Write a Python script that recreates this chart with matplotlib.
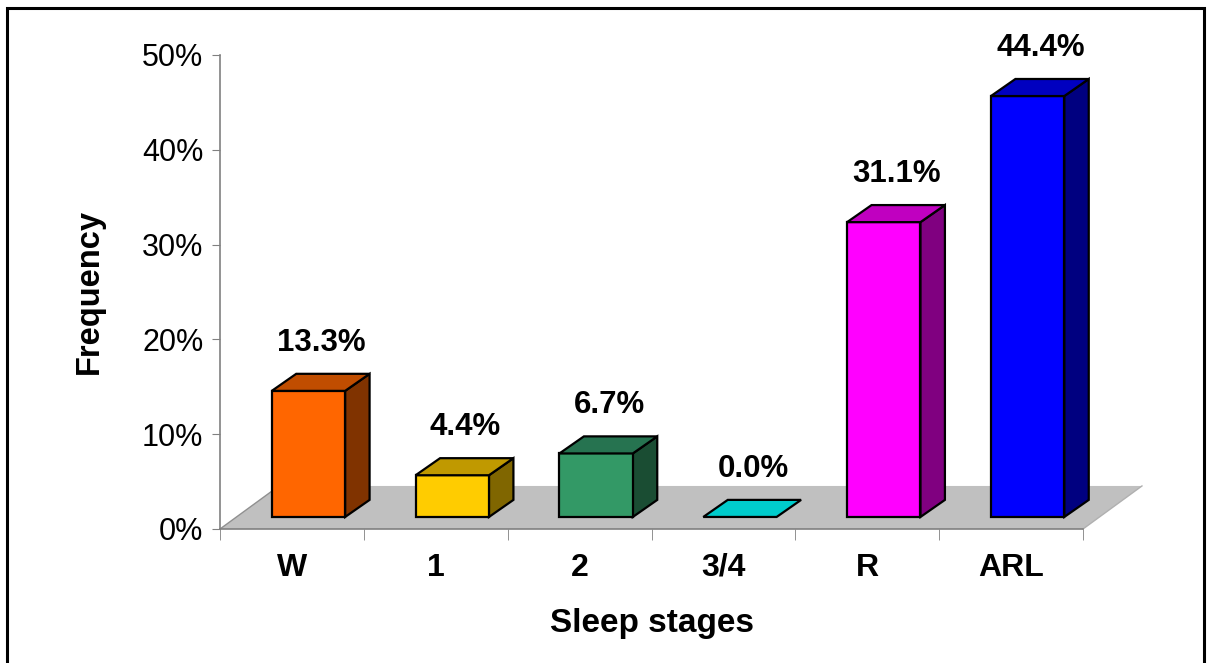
import matplotlib.pyplot as plt
from matplotlib.patches import Rectangle

plt.rcParams['font.family'] = ['Liberation Sans', 'DejaVu Sans']

# data
stages = ['W', '1', '2', '3/4', 'R', 'ARL']
freq = [13.3, 4.4, 6.7, 0.0, 31.1, 44.4]
y_ticks = [0, 10, 20, 30, 40, 50]

# colours (front, top, side)
front_col = ['#FF6600', '#FFCC00', '#339966', '#00CCCC', '#FF00FF', '#0000FF']
top_col = ['#C04D00', '#C09900', '#267350', '#00C4C4', '#C000C0', '#0000C0']
side_col = ['#803300', '#806600', '#1A4D33', '#008080', '#800080', '#000080']

# pseudo 3d geometry, in data units
floor_dx, floor_dy = 0.41, 4.54
bar_ox, bar_oy = 0.115, 1.27
bar_dx, bar_dy = 0.17, 1.8
bar_w = 0.51


def main():
    fig = plt.figure(figsize=(12.07, 6.63), dpi=100)
    ax = fig.add_axes([220 / 1207, (663 - 529) / 663, 863 / 1207, 474 / 663])
    ax.set_xlim(-0.5, len(stages) - 0.5)
    ax.set_ylim(0, 50)

    # floor
    x0, x1 = -0.5, len(stages) - 0.5
    ax.fill([x0, x1, x1 + floor_dx, x0 + floor_dx], [0, 0, floor_dy, floor_dy],
            color='#C0C0C0', lw=0, clip_on=False, zorder=1)
    ax.plot([x0, x0 + floor_dx], [0, floor_dy], color='#909090', lw=1,
            clip_on=False, zorder=1.5)
    ax.plot([x1, x1 + floor_dx], [0, floor_dy], color='#B0B0B0', lw=1,
            clip_on=False, zorder=1.5)

    ek = dict(edgecolor='black', lw=1.6, joinstyle='miter', clip_on=False, zorder=3)
    for i, v in enumerate(freq):
        l = i - bar_w / 2 + bar_ox
        r = l + bar_w
        b = bar_oy
        t = b + v
        if v > 0:
            # side and front faces
            ax.fill([r, r + bar_dx, r + bar_dx, r], [b, b + bar_dy, t + bar_dy, t],
                    facecolor=side_col[i], **ek)
            ax.fill([l, r, r, l], [b, b, t, t], facecolor=front_col[i], **ek)
            topc = top_col[i]
        else:
            topc = front_col[i]
        # top face
        ax.fill([l, r, r + bar_dx, l + bar_dx], [t, t, t + bar_dy, t + bar_dy],
                facecolor=topc, **ek)
        ax.text(i + bar_ox + bar_dx / 2 + 0.005, t + bar_dy + 3.3, f'{v:.1f}%',
                ha='center', va='center', fontsize=22.5, fontweight='bold', zorder=4)

    for s in ['top', 'right']:
        ax.spines[s].set_visible(False)
    for s in ['left', 'bottom']:
        ax.spines[s].set_color('#808080')
        ax.spines[s].set_linewidth(1.2)
        ax.spines[s].set_zorder(2)
    ax.set_facecolor('none')

    ax.set_yticks(y_ticks)
    ax.set_yticklabels([f'{t}%' for t in y_ticks], fontsize=22)
    ax.tick_params(axis='y', length=6, color='#808080', pad=6)

    ax.set_xticks(range(len(stages)))
    ax.set_xticklabels(stages, fontsize=23, fontweight='bold')
    ax.set_xticks([k - 0.5 for k in range(len(stages) + 1)], minor=True)
    ax.tick_params(axis='x', which='major', length=0, pad=17)
    ax.tick_params(axis='x', which='minor', length=8, color='#808080')

    ax.set_xlabel('Sleep stages', fontsize=24, fontweight='bold', labelpad=18)
    ax.set_ylabel('Frequency', fontsize=23.5, fontweight='bold', labelpad=27)

    fig.add_artist(Rectangle((7 / 1207, -0.01), 1197 / 1207, 1.01 - 8 / 663,
                             transform=fig.transFigure, fill=False,
                             edgecolor='black', lw=2.2))

    fig.savefig('out.png', dpi=100)


if __name__ == "__main__":
    main()
